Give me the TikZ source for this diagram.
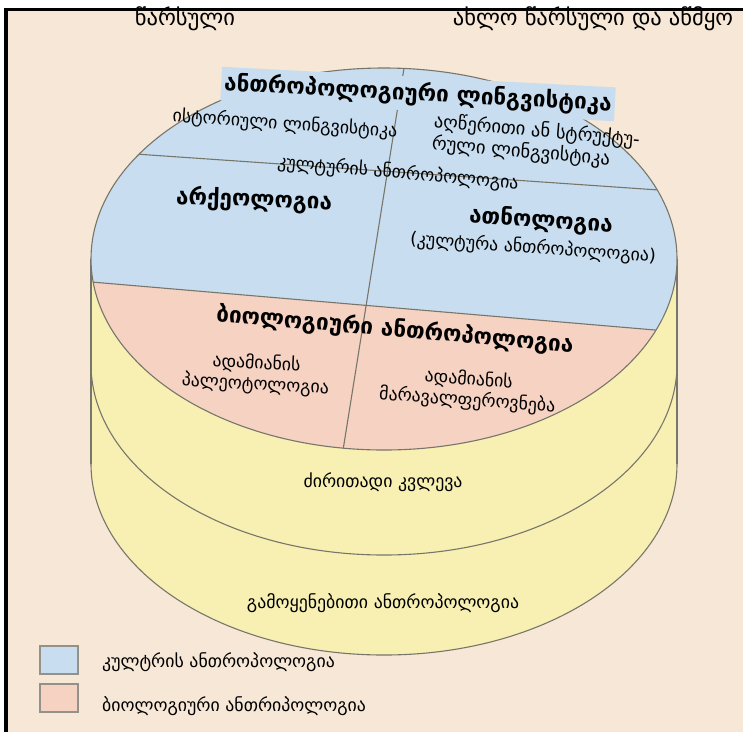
\documentclass[tikz,border=0pt]{standalone}
\usepackage{fontspec}
\setmainfont{DejaVu Sans}
\definecolor{paper}{RGB}{247,231,214}
\definecolor{skyblue}{RGB}{200,222,240}
\definecolor{salmon}{RGB}{245,210,194}
\definecolor{cream}{RGB}{247,240,178}
\definecolor{rimgray}{RGB}{120,118,106}
\begin{document}
\begin{tikzpicture}[x=1pt,y=1pt,yscale=-1,
		rim/.style={draw=rimgray,line width=1.1pt},
		hdr/.style={font=\fontsize{22.5}{26}\selectfont,inner sep=0pt},
		lbl/.style={font=\fontsize{17.8}{21}\selectfont,inner sep=0pt,align=center},
		field/.style={font=\fontsize{22.5}{26}\selectfont\bfseries,inner sep=0pt},
		keybox/.style={draw=rimgray!80,line width=1.6pt,minimum width=38pt,minimum height=28pt,inner sep=0pt}]
	\useasboundingbox (0,0) rectangle (743,732);
	%paper and frame
	\fill[white] (0,0) rectangle (743,732);
	\fill[paper] (4,9) rectangle (743,732);
	\draw[line width=4pt] (6,8) -- (6,732);
	\draw[line width=3pt] (4,9.5) -- (743,9.5);
	%coordinates
	\coordinate (top) at (384,259);
	\coordinate (mid) at (384,364);
	\coordinate (bot) at (384,464);
	%cylinder body
	\fill[cream] (91,259) rectangle (677,464);
	\fill[cream] (bot) ellipse (293 and 191);
	\begin{scope}
		\clip (0,464) rectangle (743,732);
		\draw[rim] (bot) ellipse (293 and 191);
	\end{scope}
	\begin{scope}
		\clip (0,364) rectangle (743,732);
		\draw[rim] (mid) ellipse (293 and 191);
	\end{scope}
	\draw[rim] (91,259) -- (91,464);
	\draw[rim] (677,259) -- (677,464);
	%top face
	\fill[skyblue] (top) ellipse (293 and 191);
	\begin{scope}
		\clip (top) ellipse (293 and 191);
		\fill[salmon] (0,274.2) -- (743,337.5) -- (743,732) -- (0,732) -- cycle;
		\draw[rim] (0,144.7) -- (743,195.8);
		\draw[rim] (0,274.2) -- (743,337.5);
		\draw[rim] (414.9,0) -- (298,732);
	\end{scope}
	\draw[rim] (top) ellipse (293 and 191);
	%time axis
	\node[hdr] (past) at (185,19) {წარსული};
	\node[hdr] (recent) at (593,19) {ახლო წარსული და აწმყო};
	%cultural fields
	\node[field,fill=skyblue,inner xsep=3pt,inner ysep=5pt,rotate=-3] (ling) at (418,94) {ანთროპოლოგიური ლინგვისტიკა};
	\node[lbl,rotate=-4] (hist) at (285,124) {ისტორიული ლინგვისტიკა};
	\node[lbl,font=\fontsize{18.5}{22}\selectfont,align=left,rotate=-5] (descr) at (536,142) {აღწერითი ან სტრუქტუ-\\რული ლინგვისტიკა};
	\node[lbl,rotate=-5] (cult) at (398,173) {კულტურის ანთროპოლოგია};
	\node[field,rotate=-2] (arch) at (254,200) {არქეოლოგია};
	\node[field,rotate=-4] (ethn) at (541,221) {ათნოლოგია};
	\node[lbl,rotate=-4] (ethsub) at (533,248) {(კულტურა ანთროპოლოგია)};
	%biological fields
	\node[field,rotate=-5] (bio) at (395,330) {ბიოლოგიური ანთროპოლოგია};
	\node[lbl,rotate=-3] (paleo) at (256,374) {ადამიანის\\პალეოტოლოგია};
	\node[lbl,rotate=-4] (vari) at (468,390) {ადამიანის\\მარავალფეროვნება};
	%research levels
	\node[lbl] (basic) at (383,482) {ძირითადი კვლევა};
	\node[lbl] (applied) at (383,603) {გამოყენებითი ანთროპოლოგია};
	%legend
	\node[keybox,fill=skyblue] (keycult) at (59,660) {};
	\node[keybox,fill=salmon] (keybio) at (59,698) {};
	\node[lbl,anchor=west] (keycultlbl) at (102,662) {კულტრის ანთროპოლოგია};
	\node[lbl,anchor=west] (keybiolbl) at (102,706) {ბიოლოგიური ანთრიპოლოგია};
\end{tikzpicture}
\end{document}
